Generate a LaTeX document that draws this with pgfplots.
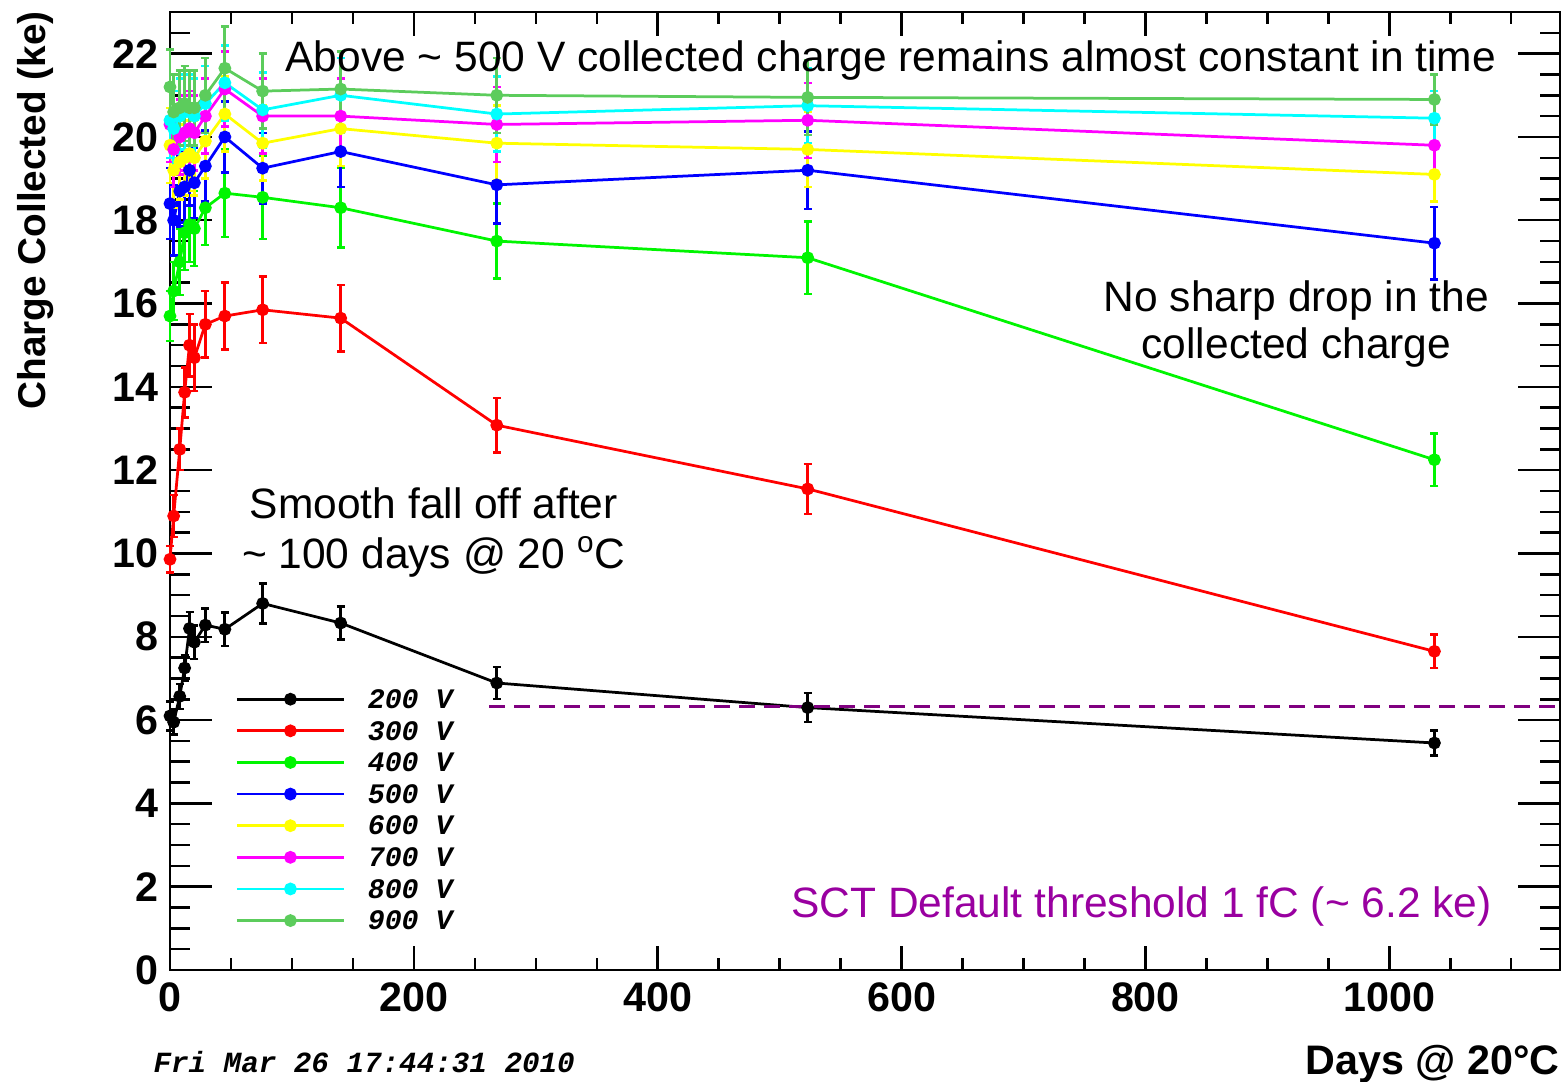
\documentclass[border=0pt]{standalone}
\usepackage{pgfplots}
\pgfplotsset{compat=1.18}
\usepackage{pgfplotstable}
\usepackage{fontspec}
\setmainfont{Liberation Sans}
\newfontfamily\monofont{Liberation Mono}

\definecolor{c200}{RGB}{0,0,0}
\definecolor{c300}{RGB}{255,0,0}
\definecolor{c400}{RGB}{0,245,0}
\definecolor{c500}{RGB}{0,0,255}
\definecolor{c600}{RGB}{255,255,0}
\definecolor{c700}{RGB}{255,0,255}
\definecolor{c800}{RGB}{0,255,255}
\definecolor{c900}{RGB}{92,204,92}
\definecolor{threshtext}{RGB}{153,0,160}
\definecolor{threshline}{RGB}{128,0,128}

\tikzset{note/.style={inner sep=0pt, font=\fontsize{17}{19}\selectfont}}

% days at 20 C, collected charge (ke) and its error for each bias voltage
\pgfplotstableread{
d    v200 e200 v300  e300 v400  e400 v500  e500 v600  e600 v700  e700 v800  e800 v900  e900
0    6.10 0.35 9.86  0.32 15.70 0.60 18.40 0.85 19.80 0.90 20.30 0.90 20.40 0.90 21.20 0.90
3    5.95 0.30 10.90 0.50 16.30 0.70 18.00 0.85 19.20 0.90 19.70 0.90 20.20 0.90 20.60 0.90
8    6.57 0.30 12.50 0.50 17.00 0.80 18.70 0.85 19.40 0.90 20.00 0.90 20.50 0.90 20.70 0.90
12   7.25 0.30 13.87 0.60 17.70 0.90 18.80 0.85 19.50 0.90 20.10 0.90 20.60 0.90 20.80 0.90
16   8.20 0.40 15.00 0.75 17.90 0.90 19.20 0.85 19.60 0.90 20.20 0.90 20.60 0.90 20.70 0.90
20   7.87 0.40 14.70 0.80 17.80 0.90 18.90 0.85 19.50 0.90 20.10 0.90 20.50 0.90 20.70 0.90
29   8.28 0.40 15.50 0.80 18.30 0.90 19.30 0.85 19.90 0.90 20.50 0.90 20.80 0.90 21.00 0.90
45   8.18 0.40 15.70 0.80 18.65 1.05 20.00 0.85 20.55 0.90 21.15 0.90 21.30 0.90 21.65 1.00
76   8.80 0.48 15.85 0.80 18.55 1.00 19.25 0.85 19.85 0.90 20.50 0.90 20.65 0.90 21.10 0.90
140  8.33 0.40 15.65 0.80 18.30 0.95 19.65 0.85 20.20 0.90 20.50 0.90 21.00 0.90 21.15 0.90
268  6.89 0.38 13.08 0.65 17.50 0.90 18.85 0.93 19.85 0.90 20.30 0.90 20.55 0.90 21.00 0.90
523  6.30 0.35 11.55 0.60 17.10 0.87 19.20 0.93 19.70 0.90 20.40 0.90 20.75 0.90 20.95 0.90
1037 5.45 0.30 7.65  0.40 12.25 0.63 17.45 0.87 19.10 0.65 19.80 0.65 20.45 0.65 20.90 0.60
}\chargedata

\begin{document}
\begin{tikzpicture}[x=1pt,y=1pt]
\begin{axis}[
  scale only axis,
  width=556pt, height=383.2pt,
  xmin=0, xmax=1140, ymin=0, ymax=23,
  clip=false,
  axis line style={line width=1pt},
  tick align=inside,
  tick style={black, line width=1pt},
  xtick={0,200,...,1000},
  minor xtick={50,100,...,1100},
  ytick={0,2,...,22},
  minor ytick={0.5,1,...,22.5},
  major tick length=16.8pt,
  minor tick length=8pt,
  xtick style={/pgfplots/major tick length=9.6pt,/pgfplots/minor tick length=4.8pt},
  ticklabel style={font=\fontsize{16.5}{18}\selectfont\bfseries},
  xticklabel style={yshift=-1.5pt},
  yticklabel style={xshift=-1pt},
  /pgf/number format/assume math mode=true,
  /pgf/number format/1000 sep={},
  legend cell align=left,
  legend style={draw=none, fill=none, at={(rel axis cs:0.0468,0.2944)}, anchor=north west,
    inner sep=0pt, row sep=2.65pt,
    nodes={inner xsep=9pt, inner ysep=0pt, text height=8pt, text depth=2pt,
      font=\monofont\bfseries\itshape\fontsize{11.3}{12}\selectfont}},
  legend image code/.code={\draw[mark repeat=2,mark phase=2,#1]
    plot coordinates {(0pt,0.7pt) (21.4pt,0.7pt) (42.8pt,0.7pt)};},
  every axis plot/.append style={line width=1.1pt, mark=*, mark size=2pt,
    error bars/y dir=both, error bars/y explicit,
    error bars/error bar style={line width=1.1pt},
    error bars/error mark options={rotate=90, mark size=1.6pt, line width=1pt}},
]
\coordinate (bl) at (rel axis cs:0,0);
\coordinate (tr) at (rel axis cs:1,1);

\addplot[c200, mark options={fill=c200}] table[x=d, y=v200, y error=e200] {\chargedata};
\addlegendentry{200 V}
\addplot[c300, mark options={fill=c300}] table[x=d, y=v300, y error=e300] {\chargedata};
\addlegendentry{300 V}
\addplot[c400, mark options={fill=c400}] table[x=d, y=v400, y error=e400] {\chargedata};
\addlegendentry{400 V}
\addplot[c500, mark options={fill=c500}] table[x=d, y=v500, y error=e500] {\chargedata};
\addlegendentry{500 V}
\addplot[c600, mark options={fill=c600}] table[x=d, y=v600, y error=e600] {\chargedata};
\addlegendentry{600 V}
\addplot[c700, mark options={fill=c700}] table[x=d, y=v700, y error=e700] {\chargedata};
\addlegendentry{700 V}
\addplot[c800, mark options={fill=c800}] table[x=d, y=v800, y error=e800] {\chargedata};
\addlegendentry{800 V}
\addplot[c900, mark options={fill=c900}] table[x=d, y=v900, y error=e900] {\chargedata};
\addlegendentry{900 V}

% SCT default threshold
\addplot[threshline, line width=1.2pt, mark=none, dash pattern=on 6.4pt off 3.6pt,
  error bars/y dir=none, forget plot] coordinates {(262,6.33) (1140,6.33)};

\node[note, anchor=base west] at (axis cs:94.3,21.57)
  {Above \textasciitilde{} 500 V collected charge remains almost constant in time};
\node[note, anchor=base] at (axis cs:923.8,15.81) {No sharp drop in the};
\node[note, anchor=base] at (axis cs:923.8,14.68) {collected charge};
\node[note, anchor=base] at (axis cs:216.4,10.84) {Smooth fall off after};
\node[note, anchor=base] at (axis cs:216.4,9.64)
  {\textasciitilde{} 100 days @ 20 \textsuperscript{o}C};
\node[note, anchor=base east, text=threshtext] at (axis cs:1084.4,1.25)
  {SCT Default threshold 1 fC (\textasciitilde{} 6.2 ke)};

% axis titles and time stamp
\node[anchor=base east, rotate=90, inner sep=0pt, font=\fontsize{15.5}{17}\selectfont\bfseries]
  at (axis cs:-102.5,23.03) {Charge Collected (ke)};
\node[anchor=base east, inner sep=0pt, font=\fontsize{16.5}{18}\selectfont\bfseries]
  at (axis cs:1140,-2.52) {Days @ 20°C};
\node[anchor=base west, inner sep=0pt, font=\monofont\bfseries\itshape\fontsize{11.7}{13}\selectfont]
  at (axis cs:-13.9,-2.45) {Fri Mar 26 17:44:31 2010};
\end{axis}
\pgfresetboundingbox
\path ([shift={(-68pt,-44.8pt)}]bl) rectangle ([shift={(2.8pt,4.8pt)}]tr);
\end{tikzpicture}
\end{document}
